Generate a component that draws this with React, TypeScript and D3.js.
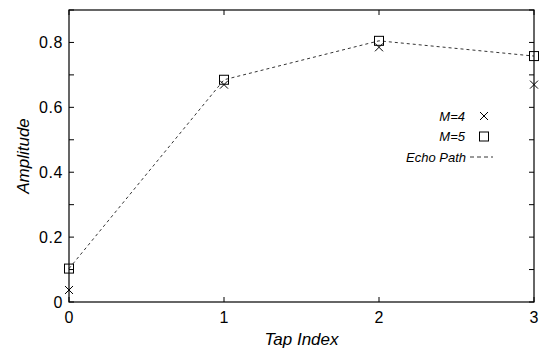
import React from 'react';
import * as d3 from 'd3';

const taps = [0, 1, 2, 3];
const m4 = [0.037, 0.67, 0.785, 0.67];
const m5 = [0.103, 0.685, 0.805, 0.758];
const echoPath = [0.103, 0.685, 0.805, 0.758];
const yMajor = [0, 0.2, 0.4, 0.6, 0.8];
const yMinor = [0, 0.1, 0.2, 0.3, 0.4, 0.5, 0.6, 0.7, 0.8, 0.9];
const yLabels = ['0', '0.2', '0.4', '0.6', '0.8'];

const W = 539;
const H = 351;
const margin = { top: 10, right: 5, bottom: 49, left: 69 };

export default function App() {
  const innerW = W - margin.left - margin.right;
  const innerH = H - margin.top - margin.bottom;
  const x = d3.scaleLinear().domain([0, 3]).range([0, innerW]);
  const y = d3.scaleLinear().domain([0, 0.9]).range([innerH, 0]);

  const line = d3
    .line<number>()
    .x((_, i) => x(taps[i]))
    .y((d) => y(d));

  const font = 'Liberation Sans, Arial, Helvetica, sans-serif';
  const tickLen = 5;

  return (
    <svg
      width={W}
      height={H}
      style={{ position: 'absolute', left: 0, top: 0, background: '#fff' }}
      fontFamily={font}
    >
      <g transform={`translate(${margin.left},${margin.top})`}>
        {/* frame */}
        <rect x={0} y={0} width={innerW} height={innerH} fill="none" stroke="#000" strokeWidth={1.2} />

        {/* y ticks both sides */}
        {yMinor.map((v) => (
          <g key={'yt' + v}>
            <line x1={0} x2={tickLen} y1={y(v)} y2={y(v)} stroke="#000" />
            <line x1={innerW} x2={innerW - tickLen} y1={y(v)} y2={y(v)} stroke="#000" />
          </g>
        ))}
        {yMajor.map((v, i) => (
          <text
            key={'yl' + v}
            x={-6}
            y={y(v)}
            dy="0.35em"
            textAnchor="end"
            fontSize={16}
            letterSpacing={0.6}
          >
            {yLabels[i]}
          </text>
        ))}

        {/* x ticks top and bottom */}
        {taps.map((t) => (
          <g key={'xt' + t}>
            <line x1={x(t)} x2={x(t)} y1={innerH} y2={innerH - tickLen} stroke="#000" />
            <line x1={x(t)} x2={x(t)} y1={0} y2={tickLen} stroke="#000" />
            <text x={x(t)} y={innerH + 21} textAnchor="middle" fontSize={16}>
              {t}
            </text>
          </g>
        ))}

        {/* echo path */}
        <path d={line(echoPath) || ''} fill="none" stroke="#000" strokeWidth={0.8} strokeDasharray="3,3" />

        {/* M=4 crosses */}
        {m4.map((v, i) => (
          <path
            key={'m4' + i}
            d={`M${x(taps[i]) - 4},${y(v) - 4}L${x(taps[i]) + 4},${y(v) + 4}M${x(taps[i]) - 4},${y(v) + 4}L${x(taps[i]) + 4},${y(v) - 4}`}
            stroke="#000"
            strokeWidth={1}
            fill="none"
          />
        ))}

        {/* M=5 squares */}
        {m5.map((v, i) => (
          <rect
            key={'m5' + i}
            x={x(taps[i]) - 4.5}
            y={y(v) - 4.5}
            width={9}
            height={9}
            fill="none"
            stroke="#000"
            strokeWidth={1}
          />
        ))}

        {/* legend */}
        <g fontStyle="italic" fontSize={13}>
          <text x={396} y={106} dy="0.35em" textAnchor="end">M=4</text>
          <path d={`M${411},${102}L${419},${110}M${411},${110}L${419},${102}`} stroke="#000" fill="none" />
          <text x={396} y={126} dy="0.35em" textAnchor="end">M=5</text>
          <rect x={410.5} y={122} width={9} height={9} fill="none" stroke="#000" />
          <text x={397} y={147} dy="0.35em" textAnchor="end">Echo Path</text>
          <line x1={401} x2={424} y1={147} y2={147} stroke="#000" strokeWidth={0.8} strokeDasharray="4,3" />
        </g>

        {/* axis titles */}
        <text
          x={innerW / 2}
          y={innerH + 43}
          textAnchor="middle"
          fontSize={17}
          fontStyle="italic"
        >
          Tap Index
        </text>
        <text
          transform={`translate(${-40},${innerH / 2}) rotate(-90)`}
          textAnchor="middle"
          fontSize={17}
          fontStyle="italic"
        >
          Amplitude
        </text>
      </g>
    </svg>
  );
}
